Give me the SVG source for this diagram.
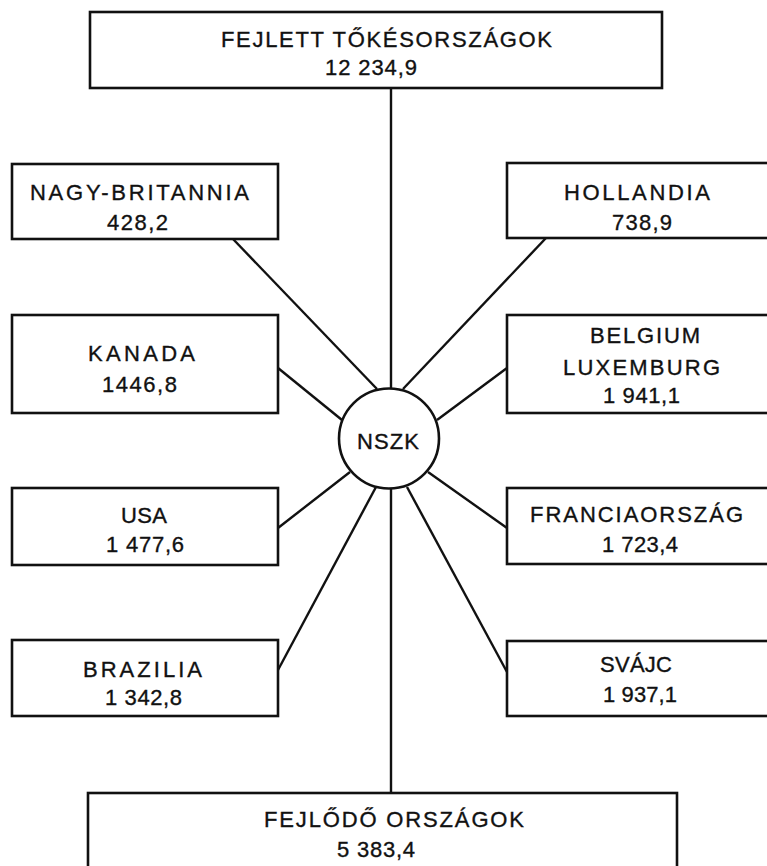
<svg xmlns="http://www.w3.org/2000/svg" width="767" height="866" viewBox="0 0 767 866">
<style>
.box{fill:#fff;stroke:#111;stroke-width:2.6}
.ln{stroke:#111;stroke-width:2.4;fill:none}
text{font-family:"Liberation Sans",Arial,sans-serif;font-size:22px;fill:#111;stroke:#111;stroke-width:0.35}
</style>
<rect width="767" height="866" fill="#fff"/>
<g id="connectors">
<line class="ln" x1="391" y1="88" x2="391" y2="389"/>
<line class="ln" x1="391" y1="488" x2="391" y2="793"/>
<line class="ln" x1="233" y1="239" x2="377" y2="389"/>
<line class="ln" x1="546" y1="238" x2="403" y2="389"/>
<line class="ln" x1="278" y1="368" x2="342" y2="420"/>
<line class="ln" x1="507" y1="368" x2="437" y2="420"/>
<line class="ln" x1="350" y1="472" x2="278" y2="528"/>
<line class="ln" x1="428" y1="472" x2="507" y2="528"/>
<line class="ln" x1="376" y1="487" x2="278" y2="670"/>
<line class="ln" x1="407" y1="487" x2="507" y2="672"/>
</g>
<g id="top">
<rect class="box" x="90" y="12" width="572" height="76"/>
<text x="221" y="47" textLength="331" lengthAdjust="spacing">FEJLETT TŐKÉSORSZÁGOK</text>
<text x="325" y="75" textLength="92" lengthAdjust="spacing">12 234,9</text>
</g>
<g id="nagybritannia">
<rect class="box" x="12" y="164" width="266" height="75"/>
<text x="30" y="200" textLength="219" lengthAdjust="spacing">NAGY-BRITANNIA</text>
<text x="107" y="230" textLength="61" lengthAdjust="spacing">428,2</text>
</g>
<g id="kanada">
<rect class="box" x="12" y="315" width="266" height="98"/>
<text x="88" y="361" textLength="107" lengthAdjust="spacing">KANADA</text>
<text x="102" y="392" textLength="75" lengthAdjust="spacing">1446,8</text>
</g>
<g id="usa">
<rect class="box" x="12" y="488" width="266" height="77"/>
<text x="121" y="523" textLength="46" lengthAdjust="spacing">USA</text>
<text x="106" y="552" textLength="78" lengthAdjust="spacing">1 477,6</text>
</g>
<g id="brazilia">
<rect class="box" x="12" y="640" width="266" height="76"/>
<text x="83" y="677" textLength="119" lengthAdjust="spacing">BRAZILIA</text>
<text x="105" y="705" textLength="77" lengthAdjust="spacing">1 342,8</text>
</g>
<g id="hollandia">
<rect class="box" x="507" y="163" width="266" height="75"/>
<text x="564" y="200" textLength="146" lengthAdjust="spacing">HOLLANDIA</text>
<text x="612" y="230" textLength="60" lengthAdjust="spacing">738,9</text>
</g>
<g id="belgium">
<rect class="box" x="507" y="315" width="266" height="98"/>
<text x="590" y="343" textLength="110" lengthAdjust="spacing">BELGIUM</text>
<text x="563" y="375" textLength="157" lengthAdjust="spacing">LUXEMBURG</text>
<text x="603" y="403" textLength="77" lengthAdjust="spacing">1 941,1</text>
</g>
<g id="franciaorszag">
<rect class="box" x="507" y="488" width="266" height="76"/>
<text x="530" y="522" textLength="213" lengthAdjust="spacing">FRANCIAORSZÁG</text>
<text x="602" y="552" textLength="76" lengthAdjust="spacing">1 723,4</text>
</g>
<g id="svajc">
<rect class="box" x="507" y="641" width="266" height="75"/>
<text x="600" y="672" textLength="72" lengthAdjust="spacing">SVÁJC</text>
<text x="603" y="702" textLength="74" lengthAdjust="spacing">1 937,1</text>
</g>
<g id="nszk">
<circle class="box" cx="389" cy="438.5" r="50"/>
<text x="357" y="449" textLength="62" lengthAdjust="spacing">NSZK</text>
</g>
<g id="bottom">
<rect class="box" x="88" y="793" width="589" height="90"/>
<text x="264" y="827" textLength="260" lengthAdjust="spacing">FEJLŐDŐ ORSZÁGOK</text>
<text x="337" y="857" textLength="78" lengthAdjust="spacing">5 383,4</text>
</g>
</svg>
